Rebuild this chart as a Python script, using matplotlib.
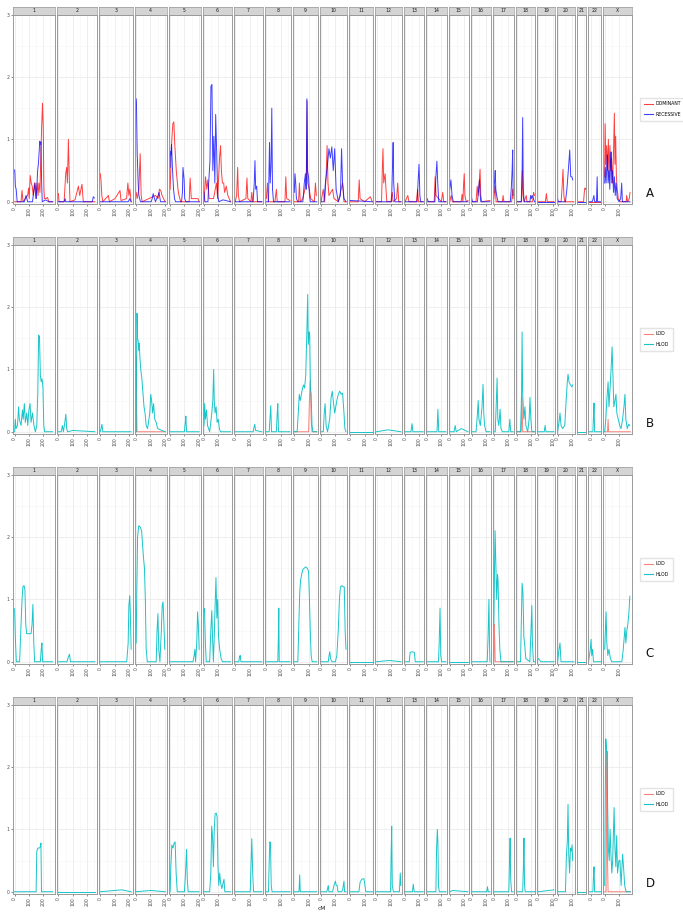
import numpy as np
import matplotlib.pyplot as plt
from matplotlib.lines import Line2D

# chromosomes and their cM ranges (data min, data max)
CHROMS = ["1", "2", "3", "4", "5", "6", "7", "8", "9", "10", "11", "12",
          "13", "14", "15", "16", "17", "18", "19", "20", "21", "22", "X"]
CM_RANGE = [(0, 266), (0, 255), (0, 216), (0, 203), (0, 203), (0, 186), (0, 186),
            (0, 165), (0, 157), (0, 174), (0, 153), (0, 170), (0, 127), (0, 132),
            (0, 127), (0, 127), (0, 135), (0, 123), (0, 110), (0, 114), (5, 64),
            (-20, 65), (0, 180)]

# ---- panel A : dominant / recessive (cM, LOD)
A_DOMINANT = {
    "1": [(0, 0), (45, 0), (52, 0.18), (59, 0), (91, 0.1), (98, 0.22), (102, 0.05), (109, 0.42),
          (116, 0.3), (123, 0.25), (130, 0.1), (139, 0.3), (148, 0.05), (157, 0.3), (164, 0.1),
          (170, 0.3), (177, 0.15), (184, 0.8), (189, 1.2), (195, 1.58), (200, 1.2), (205, 0.2),
          (209, 0.05), (220, 0.05), (230, 0.07), (239, 0), (266, 0)],
    "2": [(0, 0.13), (5, 0), (40, 0), (51, 0.45), (58, 0.55), (63, 0.3), (70, 1.0), (77, 0.3),
          (81, 0), (116, 0.03), (140, 0.25), (149, 0.1), (165, 0.28), (174, 0), (255, 0)],
    "3": [(0, 0.45), (5, 0.35), (11, 0.1), (18, 0), (57, 0.1), (64, 0), (103, 0.05), (138, 0.18),
          (145, 0.02), (184, 0.05), (193, 0.3), (200, 0.1), (207, 0.2), (216, 0)],
    "4": [(0, 0.15), (7, 0.05), (19, 0.2), (28, 0.77), (35, 0.1), (42, 0), (135, 0.1),
          (153, 0.05), (163, 0.2), (172, 0.18), (181, 0.1), (191, 0.05), (203, 0)],
    "5": [(0, 0.2), (3, 0.4), (12, 1.0), (19, 1.25), (26, 1.28), (33, 0.9), (43, 0.5), (55, 0.2),
          (62, 0.1), (74, 0), (133, 0), (140, 0.38), (148, 0.05), (195, 0.05), (203, 0)],
    "6": [(0, 0), (11, 0.4), (20, 0.2), (27, 0.35), (36, 0.05), (67, 0.05), (87, 0.3), (96, 0.05),
          (109, 0.7), (116, 0.9), (122, 0.5), (129, 0.3), (138, 0.3), (144, 0.15), (156, 0.25),
          (167, 0.1), (186, 0)],
    "7": [(0, 0), (10, 0.1), (17, 0.55), (22, 0.1), (30, 0), (75, 0.05), (82, 0.38), (88, 0.05),
          (110, 0), (116, 0.15), (122, 0), (186, 0)],
    "8": [(0, 0.05), (8, 0.3), (14, 0), (60, 0), (70, 0.2), (76, 0), (130, 0), (136, 0.4),
          (142, 0.05), (165, 0.02)],
    "9": [(0, 0), (30, 0), (36, 0.3), (42, 0), (60, 0.05), (75, 0.2), (85, 0.4), (90, 1.62),
          (94, 0.3), (105, 0.2), (115, 0.05), (140, 0), (148, 0.3), (154, 0.1)],
    "10": [(0, 0), (15, 0.2), (25, 0), (35, 0.4), (42, 0.9), (48, 0.3), (55, 0.1), (80, 0.2),
           (90, 0.05), (120, 0), (150, 0.3), (160, 0), (174, 0)],
    "11": [(0, 0), (55, 0), (62, 0.35), (68, 0.05), (100, 0), (140, 0.08), (153, 0)],
    "12": [(0, 0), (35, 0), (40, 0.5), (45, 0.85), (50, 0.3), (60, 0.45), (66, 0.2), (72, 0),
           (100, 0), (110, 0.15), (116, 0), (140, 0.05), (148, 0.3), (155, 0), (170, 0)],
    "13": [(0, 0), (20, 0.1), (27, 0), (80, 0), (88, 0.2), (94, 0), (127, 0)],
    "14": [(0, 0), (50, 0), (57, 0.4), (63, 0.1), (100, 0), (110, 0.15), (117, 0), (132, 0)],
    "15": [(0, 0), (10, 0.1), (18, 0), (80, 0), (86, 0.12), (92, 0), (96, 0.25), (101, 0.45),
           (106, 0.1), (115, 0), (127, 0.02)],
    "16": [(0, 0), (30, 0), (38, 0.25), (45, 0.1), (52, 0.3), (58, 0.52), (63, 0.1), (70, 0),
           (127, 0.02)],
    "17": [(0, 0.05), (10, 0.25), (16, 0), (60, 0), (65, 0.1), (70, 0), (125, 0), (132, 0.2),
           (135, 0.05)],
    "18": [(0, 0), (32, 0), (38, 0.5), (43, 0.1), (50, 0), (65, 0.1), (70, 0), (110, 0),
           (116, 0.15), (123, 0.1)],
    "19": [(0, 0), (50, 0), (57, 0.13), (63, 0), (110, 0)],
    "20": [(0, 0), (25, 0), (32, 0.25), (38, 0.52), (44, 0.1), (50, 0), (114, 0)],
    "21": [(5, 0), (50, 0), (55, 0.15), (60, 0.22), (64, 0.2)],
    "22": [(-20, 0), (65, 0)],
    "X": [(0, 0.4), (3, 1.25), (8, 0.6), (14, 0.9), (20, 0.5), (26, 1.0), (31, 0.4), (37, 0.9),
          (42, 0.5), (48, 0.7), (55, 0.3), (62, 0.8), (68, 1.42), (72, 0.6), (77, 1.05), (82, 0.4),
          (88, 0.2), (95, 0.05), (110, 0), (150, 0), (154, 0.1), (160, 0), (172, 0.05), (177, 0.15)],
}
A_RECESSIVE = {
    "1": [(0, 0.51), (2, 0.45), (5, 0.25), (11, 0.2), (18, 0), (68, 0), (80, 0.1), (91, 0),
          (125, 0), (136, 0.2), (143, 0.3), (152, 0.05), (161, 0.5), (166, 0.6), (173, 0.85),
          (175, 0.97), (180, 0.92), (184, 0.96), (189, 0.3), (193, 0), (216, 0.03), (239, 0), (266, 0)],
    "2": [(0, 0), (40, 0), (47, 0.05), (51, 0), (237, 0), (244, 0.08), (251, 0.06)],
    "3": [(0, 0), (195, 0), (200, 0.02), (207, 0.05), (216, 0)],
    "4": [(0, 1.65), (2, 1.6), (7, 0.8), (14, 0.3), (19, 0.1), (30, 0), (105, 0), (112, 0.05),
          (119, 0.13), (128, 0.05), (135, 0), (153, 0.1), (160, 0.15), (170, 0), (203, 0)],
    "5": [(0, 0.55), (2, 0.8), (5, 0.75), (10, 0.92), (17, 0.5), (24, 0.2), (31, 0.05), (38, 0),
          (80, 0), (86, 0.15), (90, 0.55), (98, 0.35), (102, 0.05), (110, 0), (203, 0)],
    "6": [(0, 0.15), (7, 0), (28, 0), (33, 0.3), (42, 0.65), (49, 1.85), (56, 1.88), (62, 0.5),
          (69, 1.05), (76, 0.3), (82, 1.4), (89, 0.8), (96, 0.1), (104, 0), (133, 0.03), (186, 0)],
    "7": [(0, 0), (125, 0), (133, 0.3), (138, 0.66), (143, 0.2), (150, 0.25), (156, 0), (186, 0)],
    "8": [(0, 0), (15, 0), (22, 0.95), (27, 0.3), (33, 0.6), (38, 1.5), (43, 0.2), (50, 0), (165, 0)],
    "9": [(0, 0.15), (5, 0.45), (10, 0.3), (15, 0.05), (25, 0), (60, 0), (70, 0.3), (78, 0.45),
          (84, 0.2), (88, 1.65), (92, 0.5), (100, 0.4), (106, 0.1), (112, 0), (157, 0)],
    "10": [(0, 0), (20, 0), (30, 0.3), (45, 0.6), (55, 0.85), (65, 0.7), (75, 0.88), (85, 0.5),
           (95, 0.85), (105, 0.2), (120, 0), (135, 0.1), (143, 0.85), (150, 0.3), (160, 0.05), (174, 0)],
    "11": [(0, 0.02), (153, 0)],
    "12": [(0, 0), (105, 0), (112, 0.6), (116, 0.95), (120, 0.3), (128, 0), (170, 0)],
    "13": [(0, 0), (85, 0), (92, 0.35), (98, 0.6), (104, 0.1), (110, 0), (127, 0)],
    "14": [(0, 0.05), (10, 0), (55, 0), (62, 0.4), (69, 0.65), (75, 0.3), (82, 0), (132, 0)],
    "15": [(0, 0.2), (8, 0.35), (16, 0.1), (25, 0), (127, 0)],
    "16": [(0, 0.05), (5, 0), (40, 0), (48, 0.2), (54, 0.35), (58, 0.15), (63, 0), (127, 0)],
    "17": [(0, 0.15), (6, 0.35), (10, 0.5), (14, 0.2), (20, 0.1), (30, 0), (115, 0), (122, 0.2),
           (128, 0.5), (132, 0.83), (135, 0.1)],
    "18": [(0, 0), (30, 0), (36, 0.5), (40, 1.35), (44, 0.2), (50, 0), (90, 0), (96, 0.1),
           (100, 0.05), (106, 0.1), (123, 0)],
    "19": [(0, 0), (110, 0)],
    "20": [(0, 0.05), (5, 0), (55, 0), (65, 0.2), (75, 0.5), (85, 0.83), (92, 0.4), (100, 0.4),
           (106, 0.35)],
    "21": [(5, 0), (64, 0)],
    "22": [(-20, 0), (5, 0), (12, 0.05), (17, 0.1), (22, 0), (35, 0), (40, 0.4), (43, 0), (65, 0)],
    "X": [(0, 0.3), (4, 0.55), (10, 0.3), (15, 0.6), (19, 0.75), (24, 0.3), (30, 0.5), (36, 0.2),
          (41, 0.6), (45, 0.8), (50, 0.3), (56, 0.5), (62, 0.15), (68, 0.4), (74, 0.1), (80, 0.3),
          (88, 0.05), (100, 0), (112, 0.05), (119, 0.3), (124, 0), (177, 0)],
}

# ---- panel B : LOD / HLOD
B_HLOD = {
    "1": [(0, 0), (5, 0.2), (10, 0.05), (20, 0.1), (28, 0.4), (33, 0.2), (45, 0.1), (55, 0.35),
          (60, 0.2), (68, 0.45), (75, 0.15), (85, 0.3), (92, 0.1), (100, 0.35), (108, 0.45),
          (115, 0.15), (125, 0.3), (135, 0.1), (145, 0), (155, 0.1), (162, 0.6), (168, 1.55),
          (174, 1.52), (180, 0.9), (186, 0.8), (192, 0.85), (198, 0.7), (204, 0.1), (210, 0), (266, 0)],
    "2": [(0, 0), (20, 0), (28, 0.1), (35, 0), (45, 0.15), (52, 0.28), (58, 0.05), (65, 0),
          (100, 0.02), (255, 0)],
    "3": [(0, 0), (6, 0.05), (12, 0.12), (18, 0), (216, 0)],
    "4": [(0, 0), (3, 1.2), (6, 1.9), (10, 1.5), (14, 1.45), (18, 1.3), (22, 1.42), (26, 1.2),
          (32, 1.0), (40, 0.85), (48, 0.6), (55, 0.4), (62, 0.3), (70, 0.1), (80, 0.05), (95, 0.3),
          (102, 0.6), (108, 0.5), (115, 0.3), (122, 0.45), (130, 0.2), (140, 0.15), (150, 0.05), (203, 0)],
    "5": [(0, 0), (100, 0), (106, 0.15), (110, 0.25), (115, 0), (203, 0)],
    "6": [(0, 0.1), (5, 0.45), (10, 0.2), (18, 0.35), (25, 0.1), (40, 0), (55, 0.3), (62, 0.5),
          (68, 1.0), (72, 0.5), (78, 0.3), (85, 0.4), (92, 0.15), (100, 0.2), (108, 0.05), (115, 0), (186, 0)],
    "7": [(0, 0), (125, 0), (132, 0.08), (137, 0.12), (142, 0.02), (186, 0)],
    "8": [(0, 0), (20, 0), (25, 0.2), (31, 0.42), (36, 0), (70, 0), (76, 0.3), (80, 0.45), (85, 0), (165, 0)],
    "9": [(0, 0), (20, 0), (28, 0.3), (35, 0.6), (42, 0.5), (50, 0.6), (58, 0.7), (65, 0.75),
          (72, 0.7), (80, 0.9), (88, 1.6), (94, 2.2), (98, 1.4), (104, 1.6), (108, 1.55), (113, 0.7),
          (118, 0.6), (124, 0.1), (130, 0), (157, 0)],
    "10": [(0, 0), (15, 0), (22, 0.3), (28, 0.45), (35, 0.1), (45, 0), (60, 0.2), (70, 0.55),
           (78, 0.65), (85, 0.5), (95, 0.3), (110, 0.5), (120, 0.6), (130, 0.65), (140, 0.6),
           (150, 0.62), (160, 0.3), (166, 0.05), (174, 0)],
    "11": [(0, 0), (153, 0)],
    "12": [(0, 0), (80, 0.03), (170, 0)],
    "13": [(0, 0), (42, 0), (49, 0.13), (55, 0), (127, 0)],
    "14": [(0, 0), (70, 0), (76, 0.36), (82, 0), (132, 0)],
    "15": [(0, 0), (30, 0), (38, 0.1), (45, 0), (80, 0.05), (127, 0)],
    "16": [(0, 0), (30, 0), (40, 0.3), (45, 0.5), (50, 0.2), (60, 0.1), (72, 0.4), (79, 0.76),
           (84, 0.3), (90, 0.1), (100, 0), (127, 0)],
    "17": [(0, 0), (10, 0), (18, 0.5), (23, 0.86), (28, 0.2), (35, 0.1), (44, 0.36), (50, 0.05),
           (60, 0), (105, 0), (112, 0.2), (118, 0), (135, 0)],
    "18": [(0, 0), (25, 0), (32, 0.6), (36, 1.6), (40, 0.6), (48, 0.2), (56, 0.4), (62, 0.1),
           (75, 0), (85, 0.2), (91, 0.55), (97, 0.2), (104, 0), (123, 0)],
    "19": [(0, 0), (42, 0), (48, 0.1), (54, 0), (110, 0)],
    "20": [(0, 0), (10, 0.15), (17, 0.3), (24, 0.1), (35, 0.05), (50, 0.1), (60, 0.5), (68, 0.8),
           (73, 0.92), (80, 0.8), (90, 0.75), (100, 0.72), (106, 0.75)],
    "21": [(5, 0), (64, 0)],
    "22": [(-20, 0), (10, 0), (15, 0.3), (18, 0.46), (22, 0), (65, 0)],
    "X": [(0, 0), (8, 0.2), (15, 0.5), (24, 0.8), (30, 0.4), (38, 0.7), (45, 1.0), (52, 1.36),
          (58, 0.9), (64, 0.4), (72, 0.5), (79, 0.6), (85, 0.3), (95, 0.2), (105, 0.1), (115, 0.05),
          (125, 0.2), (135, 0.4), (142, 0.6), (148, 0.2), (158, 0.05), (168, 0.12), (175, 0.1)],
}
B_LOD = {
    "4": [(0, 0), (1, 1.2), (3, 0.4), (6, 0), (203, 0)],
    "9": [(0, 0), (100, 0), (106, 0.5), (112, 0.82), (118, 0.2), (124, 0), (157, 0)],
    "18": [(0, 0), (30, 0), (35, 0.55), (40, 0), (123, 0)],
    "X": [(0, 0), (20, 0), (24, 0.2), (28, 0), (180, 0)],
}

# ---- panel C : LOD / HLOD
C_HLOD = {
    "1": [(0, 0.85), (5, 0.4), (12, 0), (35, 0), (45, 0.6), (52, 1.0), (58, 1.2), (66, 1.22),
          (72, 1.15), (78, 0.6), (84, 0.45), (100, 0.45), (115, 0.45), (122, 0.6), (128, 0.92),
          (134, 0.3), (140, 0), (180, 0), (186, 0.2), (191, 0.3), (196, 0), (266, 0)],
    "2": [(0, 0), (60, 0), (70, 0.08), (78, 0.12), (84, 0), (255, 0)],
    "3": [(0, 0), (185, 0), (195, 0.3), (200, 0.9), (206, 1.06), (210, 0.8), (216, 0.2)],
    "4": [(0, 0.3), (5, 1.2), (10, 2.0), (18, 2.18), (28, 2.16), (38, 2.1), (44, 1.9), (50, 1.7),
          (58, 1.5), (64, 1.0), (70, 0.2), (78, 0), (140, 0), (146, 0.5), (152, 0.77), (158, 0.2),
          (166, 0), (176, 0.5), (182, 0.9), (188, 0.96), (194, 0.6), (200, 0.2)],
    "5": [(0, 0), (160, 0), (168, 0.1), (173, 0.2), (178, 0), (186, 0.3), (192, 0.8), (197, 0.6), (203, 0.2)],
    "6": [(0, 0.8), (4, 0.85), (10, 0.3), (16, 0), (40, 0), (48, 0.5), (55, 0.82), (60, 0.4),
          (66, 0), (72, 0.4), (78, 0.9), (84, 1.35), (90, 0.7), (96, 1.0), (102, 0.4), (110, 0.2),
          (120, 0.05), (130, 0), (186, 0)],
    "7": [(0, 0), (25, 0), (30, 0.08), (35, 0.1), (40, 0), (186, 0)],
    "8": [(0, 0), (80, 0), (84, 0.4), (87, 0.86), (90, 0), (165, 0)],
    "9": [(0, 0), (25, 0), (32, 0.6), (38, 1.1), (44, 1.3), (52, 1.4), (60, 1.48), (70, 1.5),
          (80, 1.52), (90, 1.5), (100, 1.45), (106, 1.0), (112, 0.5), (118, 0.1), (125, 0), (157, 0)],
    "10": [(0, 0), (50, 0), (56, 0.1), (61, 0.16), (66, 0.05), (75, 0), (100, 0), (110, 0.1),
           (120, 0.5), (128, 1.0), (135, 1.2), (145, 1.22), (155, 1.2), (162, 1.2), (168, 0.5), (174, 0.2)],
    "11": [(0, 0), (153, 0)],
    "12": [(0, 0), (90, 0.02), (170, 0)],
    "13": [(0, 0), (30, 0), (36, 0.15), (50, 0.16), (65, 0.15), (72, 0), (127, 0)],
    "14": [(0, 0), (80, 0), (85, 0.3), (91, 0.86), (96, 0.1), (102, 0), (132, 0)],
    "15": [(0, 0), (127, 0)],
    "16": [(0, 0), (108, 0), (114, 0.4), (120, 1.0), (124, 0.3), (127, 0)],
    "17": [(0, 0.6), (5, 1.5), (9, 2.1), (14, 1.6), (20, 1.0), (26, 1.4), (30, 1.3), (36, 0.6),
           (42, 0.2), (50, 0), (135, 0)],
    "18": [(0, 0), (25, 0), (30, 0.6), (36, 1.26), (42, 1.1), (48, 0.4), (55, 0.25), (62, 0.05),
           (90, 0), (98, 0.5), (104, 0.9), (108, 0.3), (115, 0), (123, 0)],
    "19": [(0, 0.05), (20, 0), (110, 0)],
    "20": [(0, 0), (10, 0.2), (17, 0.3), (24, 0), (114, 0)],
    "21": [(5, 0), (64, 0)],
    "22": [(-20, 0), (-8, 0.2), (-3, 0.36), (2, 0.1), (8, 0.2), (14, 0), (65, 0)],
    "X": [(0, 0.2), (5, 0.5), (10, 0.8), (15, 0.3), (22, 0.1), (30, 0.2), (40, 0.05), (50, 0),
          (120, 0), (130, 0.2), (137, 0.4), (142, 0.55), (148, 0.3), (155, 0.5), (162, 0.6),
          (170, 0.8), (176, 1.05)],
}
C_LOD = {
    "17": [(0, 0), (3, 0.6), (7, 0.3), (10, 0), (135, 0)],
}

# ---- panel D : LOD / HLOD
D_HLOD = {
    "1": [(0, 0), (150, 0), (155, 0.65), (163, 0.7), (172, 0.7), (180, 0.72), (184, 0.78), (188, 0), (266, 0)],
    "2": [(0, 0), (255, 0)],
    "3": [(0, 0), (150, 0.03), (216, 0)],
    "4": [(0, 0), (100, 0.02), (203, 0)],
    "5": [(0, 0), (5, 0.4), (12, 0.75), (20, 0.7), (28, 0.78), (35, 0.8), (42, 0.3), (50, 0),
          (100, 0), (108, 0.3), (115, 0.68), (120, 0.2), (126, 0), (203, 0)],
    "6": [(0, 0), (40, 0), (48, 0.3), (54, 1.05), (60, 0.9), (66, 0.4), (72, 1.0), (78, 1.25),
          (86, 1.26), (92, 1.2), (98, 0.4), (104, 0.1), (110, 0.3), (116, 0.15), (125, 0.05),
          (140, 0.2), (146, 0), (186, 0)],
    "7": [(0, 0), (105, 0), (110, 0.4), (116, 0.85), (122, 0.3), (128, 0), (186, 0)],
    "8": [(0, 0), (15, 0), (20, 0.5), (24, 0.8), (29, 0.78), (34, 0.1), (40, 0), (165, 0)],
    "9": [(0, 0), (33, 0), (38, 0.27), (42, 0), (157, 0)],
    "10": [(0, 0), (40, 0), (50, 0.1), (55, 0), (80, 0), (90, 0.1), (100, 0.17), (106, 0.1),
           (112, 0.1), (118, 0), (140, 0), (150, 0.02), (160, 0.17), (164, 0), (174, 0)],
    "11": [(0, 0), (60, 0), (68, 0.15), (80, 0.2), (95, 0.21), (102, 0.1), (108, 0), (153, 0)],
    "12": [(0, 0), (98, 0), (102, 0.6), (106, 1.05), (110, 0.1), (118, 0), (160, 0), (166, 0.3), (170, 0.1)],
    "13": [(0, 0), (52, 0), (58, 0.12), (64, 0), (127, 0)],
    "14": [(0, 0), (62, 0), (67, 0.7), (72, 1.0), (76, 0.8), (80, 0.1), (86, 0), (132, 0)],
    "15": [(0, 0), (20, 0.02), (127, 0)],
    "16": [(0, 0), (105, 0), (110, 0.08), (115, 0), (127, 0)],
    "17": [(0, 0), (105, 0), (110, 0.5), (114, 0.86), (118, 0.2), (124, 0), (135, 0)],
    "18": [(0, 0), (40, 0), (45, 0.4), (49, 0.86), (53, 0.1), (58, 0), (123, 0)],
    "19": [(0, 0), (110, 0.03)],
    "20": [(0, 0), (55, 0), (62, 0.6), (68, 0.8), (73, 1.4), (78, 0.6), (84, 0.3), (90, 0.7),
           (96, 0.65), (101, 0.75), (106, 0.5)],
    "21": [(5, 0), (64, 0)],
    "22": [(-20, 0), (10, 0), (14, 0.25), (18, 0.4), (22, 0), (65, 0)],
    "X": [(0, 0.1), (4, 1.5), (8, 2.45), (12, 2.3), (16, 2.2), (20, 1.5), (26, 0.7), (32, 0.5),
          (38, 1.0), (44, 0.6), (50, 0.3), (56, 0.5), (62, 1.0), (66, 1.35), (72, 0.7), (78, 0.4),
          (84, 0.9), (90, 0.3), (100, 0.5), (107, 0.5), (115, 0.1), (125, 0.6), (132, 0.4),
          (140, 0.1), (150, 0), (180, 0)],
}
D_LOD = {
    "X": [(0, 0), (10, 0), (14, 1.5), (17, 2.25), (20, 0.5), (24, 0), (180, 0)],
}

PANELS = [
    ("A", [("DOMINANT", A_DOMINANT, "#FF0000"), ("RECESSIVE", A_RECESSIVE, "#0000FF")], 0.75),
    ("B", [("LOD", B_LOD, "#F8766D"), ("HLOD", B_HLOD, "#00BFC4")], 0.9),
    ("C", [("LOD", C_LOD, "#F8766D"), ("HLOD", C_HLOD, "#00BFC4")], 0.9),
    ("D", [("LOD", D_LOD, "#F8766D"), ("HLOD", D_HLOD, "#00BFC4")], 0.9),
]

W, H = 683, 917
fig = plt.figure(figsize=(W / 100, H / 100), dpi=100)


def px_axes(x, y, w, h):
    return fig.add_axes([x / W, 1 - (y + h) / H, w / W, h / H])


# expanded x-limits, facet widths proportional to them (free space)
limits = []
for a, b in CM_RANGE:
    pad = 0.05 * (b - a)
    limits.append((a - pad, b + pad))
spans = np.array([hi - lo for lo, hi in limits])
left0, total_w, gap = 12.7, 619.0, 2.0
widths = spans / spans.sum() * (total_w - gap * (len(CHROMS) - 1))
lefts = left0 + np.concatenate([[0], np.cumsum(widths + gap)[:-1]])

strip_h, plot_h, period = 7.3, 189.0, 230.0
GRID = "#EBEBEB"
BORDER = "#9A9A9A"

for p, (letter, series, alpha) in enumerate(PANELS):
    strip_top = 7.3 + period * p
    plot_top = strip_top + strip_h
    for i, ch in enumerate(CHROMS):
        lo, hi = limits[i]
        ax = px_axes(lefts[i], plot_top, widths[i], plot_h)
        ax.set_xlim(lo, hi)
        ax.set_ylim(-0.03, 3.0)
        for gx in [50, 150, 250]:
            if lo < gx < hi:
                ax.axvline(gx, color="#F5F5F5", lw=0.4, zorder=0)
        for gy in [0.5, 1.5, 2.5]:
            ax.axhline(gy, color="#F5F5F5", lw=0.4, zorder=0)
        for gx in [0, 100, 200]:
            if lo < gx < hi:
                ax.axvline(gx, color=GRID, lw=0.6, zorder=0)
        for gy in [0, 1, 2, 3]:
            ax.axhline(gy, color=GRID, lw=0.6, zorder=0)

        for name, data, col in series:
            if ch in data:
                pts = np.array(data[ch])
                ax.plot(pts[:, 0], pts[:, 1], color=col, lw=0.7, alpha=alpha, zorder=2)

        xt = [t for t in [0, 100, 200] if lo <= t <= hi]
        ax.set_xticks(xt)
        ax.set_xticklabels([str(t) for t in xt], rotation=90, fontsize=3.3, color="#4D4D4D")
        ax.tick_params(axis="x", length=1.5, width=0.4, pad=1, color="#333333")
        if i == 0:
            ax.set_yticks([0, 1, 2, 3])
            ax.set_yticklabels(["0", "1", "2", "3"], fontsize=3.3, color="#4D4D4D")
            ax.tick_params(axis="y", length=1.5, width=0.4, pad=1, color="#333333")
        else:
            ax.set_yticks([])
        for s in ax.spines.values():
            s.set_color(BORDER)
            s.set_linewidth(0.7)

        sax = px_axes(lefts[i], strip_top, widths[i], strip_h)
        sax.set_facecolor("#D4D4D4")
        sax.set_xticks([])
        sax.set_yticks([])
        for s in sax.spines.values():
            s.set_color(BORDER)
            s.set_linewidth(0.5)
        sax.text(0.5, 0.5, ch, ha="center", va="center", fontsize=3.3, color="#1A1A1A",
                 transform=sax.transAxes)

    handles = [Line2D([], [], color=col, lw=0.8, alpha=alpha) for name, d, col in series]
    labels = [name for name, d, col in series]
    yc = plot_top + plot_h / 2
    fig.legend(handles, labels, loc="center left", bbox_to_anchor=(638 / W, 1 - yc / H),
               fontsize=3.3, frameon=True, edgecolor="#DDDDDD", fancybox=False,
               handlelength=2.0, borderpad=0.8, labelspacing=1.2, handletextpad=0.6)
    fig.text(650 / W, 1 - (plot_top + plot_h - 10) / H, letter, ha="center", va="center",
             fontsize=8.5, color="#111111")

fig.text((left0 + total_w / 2) / W, 1 - 908 / H, "cM", ha="center", va="center", fontsize=4.2,
         color="#222222")

fig.savefig("out.png", dpi=100)
